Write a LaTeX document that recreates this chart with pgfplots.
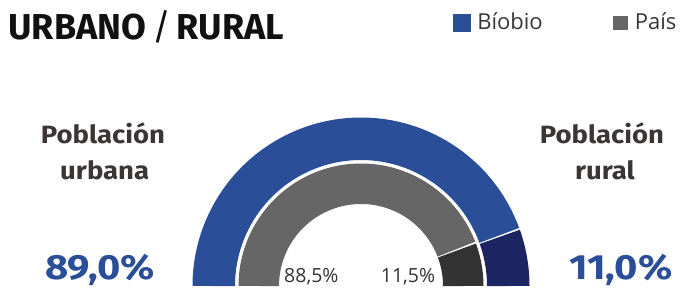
\documentclass[border=0pt]{standalone}
\usepackage{pgfplots}
\pgfplotsset{compat=1.18}
\usepackage{pgfplotstable}
\usepackage{fontspec}
\setmainfont{Fira Sans}
\newfontfamily\legfont{Open Sans}
\definecolor{bioblue}{HTML}{2A4F98}
\definecolor{bionavy}{HTML}{1C2562}
\definecolor{paisgray}{HTML}{666666}
\definecolor{paisdark}{HTML}{333333}
\definecolor{labtext}{HTML}{3B3536}
\definecolor{titletext}{HTML}{111111}

\pgfplotstableread{
region urban rural
Biobio 89.0 11.0
Pais 88.5 11.5
}\ringdata

\newcommand\lab[1]{\scalebox{1.1}[1]{#1}}
\newcommand\pct[1]{\scalebox{1.14}[1]{#1}}

\begin{document}
\begin{tikzpicture}
\path[use as bounding box] (0,0) rectangle (680pt,289pt);
\pgfplotstablegetelem{0}{urban}\of\ringdata \edef\bioU{\pgfplotsretval}
\pgfplotstablegetelem{1}{urban}\of\ringdata \edef\paisU{\pgfplotsretval}
\begin{axis}[
  x=1pt, y=1pt, xmin=0, xmax=680, ymin=0, ymax=289,
  at={(0,0)}, anchor=south west,
  hide axis, clip=false,
  legend style={at={(axis cs:453.3,275)}, anchor=north west, draw=none, fill=none,
    inner sep=0pt, outer sep=0pt, column sep=0pt,
    legend columns=2,
    cells={anchor=base west},
    nodes={inner sep=0pt, outer sep=0pt, text height=15pt, text depth=0pt,
      text width=136pt, align=left, font=\legfont\fontsize{22}{26}\selectfont, text=labtext}},
]
% legend
\addlegendimage{legend image code/.code={\fill[bioblue,draw=none] (0pt,-2.4pt) rectangle (17.4pt,15.3pt); \path[draw=none,fill=none] (0pt,0pt) -- (24pt,0pt);}}
\addlegendentry{Bíobio}
\addlegendimage{legend image code/.code={\fill[paisgray,draw=none] (0pt,-0.7pt) rectangle (15pt,13.6pt); \path[draw=none,fill=none] (0pt,0pt) -- (21.6pt,0pt);}}
\addlegendentry{País}
% outer ring (Biobio)
\addplot[forget plot, draw=bioblue, line width=42.5pt, samples=160,
  domain={180-1.8*\bioU+0.3}:180] ({361+147.25*cos(x)},{3+147.25*sin(x)});
\addplot[forget plot, draw=bionavy, line width=42.5pt, samples=40,
  domain=0:{180-1.8*\bioU-0.3}] ({361+147.25*cos(x)},{3+147.25*sin(x)});
% inner ring (Pais)
\addplot[forget plot, draw=paisgray, line width=40.5pt, samples=160,
  domain={180-1.8*\paisU+0.42}:180] ({361+102.25*cos(x)},{3+102.25*sin(x)});
\addplot[forget plot, draw=paisdark, line width=40.5pt, samples=40,
  domain=0:{180-1.8*\paisU-0.42}] ({361+102.25*cos(x)},{3+102.25*sin(x)});
% texts
\node[anchor=base west, inner sep=0pt, text=titletext] at (axis cs:8.3,249.7)
  {\fontsize{36}{40}\selectfont\textbf{URBANO}\,/\,\textbf{RURAL}};
\node[anchor=base, inner sep=0pt, text=labtext, font=\fontsize{25}{30}\selectfont\bfseries] at (axis cs:103,145.7) {\lab{Población}};
\node[anchor=base, inner sep=0pt, text=labtext, font=\fontsize{25}{30}\selectfont\bfseries] at (axis cs:104.7,109.7) {\lab{urbana}};
\node[anchor=base, inner sep=0pt, text=labtext, font=\fontsize{25}{30}\selectfont\bfseries] at (axis cs:602,145.7) {\lab{Población}};
\node[anchor=base, inner sep=0pt, text=labtext, font=\fontsize{25}{30}\selectfont\bfseries] at (axis cs:605,109.7) {\lab{rural}};
\node[anchor=base, inner sep=0pt, text=bioblue, font=\fontsize{35}{40}\selectfont\bfseries] at (axis cs:100,9.5) {\pct{89,0\%}};
\node[anchor=base, inner sep=0pt, text=bioblue, font=\fontsize{35}{40}\selectfont\bfseries] at (axis cs:621,9.5) {\pct{11,0\%}};
\node[anchor=base west, inner sep=0pt, text=paisdark, font=\legfont\fontsize{19.5}{24}\selectfont] at (axis cs:284,6.3) {88,5\%};
\node[anchor=base west, inner sep=0pt, text=paisdark, font=\legfont\fontsize{19.5}{24}\selectfont] at (axis cs:380.7,6.3) {11,5\%};
\end{axis}
\end{tikzpicture}
\end{document}
